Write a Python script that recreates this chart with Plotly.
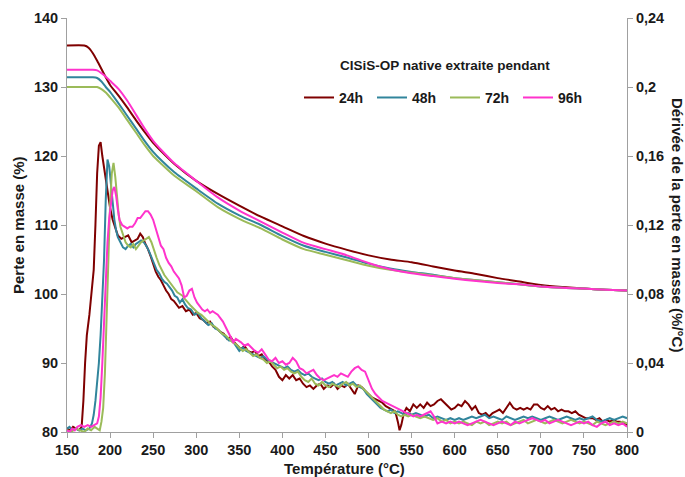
import plotly.graph_objects as go

# ---------------- data ----------------
series_names = ["24h", "48h", "72h", "96h"]
series_colors = ["#7F0000", "#31859C", "#9BBB59", "#FF33CC"]

# Mass loss (TG) curves, left axis (%)
tg_temp = [150, 170, 175, 180, 185, 190, 195, 200, 210, 220, 230, 240, 250, 260, 275, 300, 325, 350,
           375, 400, 425, 450, 475, 500, 525, 550, 575, 600, 625, 650, 675, 700, 725, 750, 775, 800]
tg_24h = [136.0, 136.0, 135.7, 134.9, 133.8, 132.6, 131.4, 130.3, 128.7, 127.0, 125.2, 123.5, 121.9,
          120.6, 118.8, 116.4, 114.5, 112.8, 111.2, 109.8, 108.4, 107.3, 106.4, 105.6, 105.0, 104.6,
          104.0, 103.4, 102.9, 102.3, 101.8, 101.3, 101.0, 100.8, 100.6, 100.5]
tg_48h = [131.4, 131.4, 131.4, 131.4, 131.3, 130.8, 130.0, 129.3, 127.6, 125.8, 124.0, 122.2, 120.6,
          119.3, 117.6, 115.3, 113.1, 111.4, 110.0, 108.4, 107.0, 106.1, 105.3, 104.4, 103.7, 103.2,
          102.8, 102.3, 102.0, 101.7, 101.4, 101.1, 100.9, 100.8, 100.6, 100.5]
tg_72h = [130.0, 130.0, 130.0, 130.0, 130.0, 129.7, 129.2, 128.5, 127.0, 125.2, 123.4, 121.6, 120.0,
          118.8, 117.1, 114.9, 112.6, 110.9, 109.5, 107.9, 106.5, 105.7, 104.9, 104.1, 103.5, 103.1,
          102.7, 102.3, 102.0, 101.7, 101.4, 101.1, 100.9, 100.8, 100.6, 100.5]
tg_96h = [132.5, 132.5, 132.5, 132.5, 132.4, 132.0, 131.5, 130.9, 129.7, 128.0, 126.0, 124.0, 122.2,
          120.8, 118.9, 116.4, 114.0, 112.1, 110.5, 108.9, 107.4, 106.5, 105.6, 104.5, 103.6, 103.0,
          102.6, 102.2, 101.9, 101.6, 101.4, 101.1, 100.9, 100.8, 100.6, 100.5]

# Derivative (DTG) curves, right axis (%/°C) as (temperature, value) pairs
dtg_24h = [(150,0.002),(154,0.001),(157,0.003),(160,0.002),(164,0.001),(167,0.003),(169,0.018),(171,0.040),
           (173,0.056),(176,0.068),(179,0.082),(181,0.094),(183,0.120),(185,0.150),(187,0.166),(189,0.168),
           (191,0.160),(194,0.150),(197,0.138),(200,0.130),(203,0.123),(206,0.118),(209,0.114),(213,0.112),
           (217,0.113),(221,0.114),(225,0.110),(229,0.111),(232,0.112),(235,0.115),(238,0.113),(241,0.109),
           (244,0.106),(247,0.102),(250,0.097),(253,0.093),(256,0.090),(259,0.088),(262,0.085),(265,0.082),
           (268,0.080),(271,0.077),(274,0.076),(277,0.074),(280,0.072),(284,0.073),(288,0.070),(292,0.071),
           (296,0.068),(300,0.069),(304,0.066),(308,0.065),(312,0.063),(316,0.064),(320,0.061),(324,0.060),
           (328,0.058),(332,0.057),(336,0.054),(340,0.055),(344,0.052),(348,0.050),(352,0.048),(356,0.050),
           (360,0.047),(364,0.046),(368,0.047),(372,0.044),(376,0.045),(380,0.042),(384,0.041),(388,0.038),
           (392,0.036),(396,0.032),(400,0.030),(404,0.033),(408,0.031),(412,0.033),(416,0.030),(420,0.031),
           (424,0.028),(428,0.026),(432,0.027),(436,0.025),(440,0.027),(444,0.028),(448,0.025),(452,0.027),
           (456,0.026),(460,0.028),(464,0.025),(468,0.027),(472,0.026),(476,0.028),(480,0.025),(484,0.022),
           (488,0.027),(492,0.026),(496,0.024),(500,0.022),(504,0.020),(508,0.019),(512,0.018),(516,0.017),
           (520,0.015),(524,0.014),(528,0.013),(531,0.012),(534,0.006),(536,0.001),(538,0.004),(541,0.011),
           (544,0.014),(548,0.012),(552,0.016),(556,0.014),(560,0.016),(564,0.014),(568,0.017),(572,0.015),
           (576,0.016),(580,0.018),(584,0.019),(588,0.017),(592,0.015),(596,0.013),(600,0.014),(604,0.016),
           (608,0.015),(612,0.018),(616,0.016),(620,0.013),(624,0.015),(628,0.011),(632,0.010),(636,0.011),
           (640,0.009),(644,0.011),(648,0.012),(652,0.013),(656,0.011),(660,0.014),(664,0.017),(668,0.014),
           (672,0.013),(676,0.014),(680,0.013),(684,0.014),(688,0.013),(692,0.016),(696,0.016),(700,0.014),
           (704,0.013),(708,0.015),(712,0.013),(716,0.014),(720,0.012),(724,0.013),(728,0.012),(732,0.012),
           (736,0.011),(740,0.012),(744,0.010),(748,0.009),(752,0.008),(756,0.008),(760,0.008),(764,0.007),
           (768,0.008),(772,0.006),(776,0.007),(780,0.006),(784,0.007),(788,0.006),(792,0.006),(796,0.005),
           (800,0.004)]
dtg_48h = [(150,0.002),(153,0.003),(156,0.001),(160,0.002),(164,0.001),(168,0.002),(172,0.001),(176,0.002),
           (179,0.005),(181,0.010),(183,0.018),(185,0.028),(187,0.040),(189,0.056),(191,0.076),(193,0.100),
           (195,0.135),(197,0.158),(199,0.154),(201,0.142),(203,0.131),(205,0.123),(207,0.117),(209,0.113),
           (212,0.110),(215,0.107),(218,0.106),(221,0.108),(224,0.109),(227,0.107),(230,0.109),(233,0.110),
           (236,0.111),(239,0.110),(242,0.108),(245,0.105),(248,0.101),(251,0.097),(254,0.094),(257,0.092),
           (260,0.089),(263,0.087),(266,0.086),(269,0.084),(272,0.082),(275,0.079),(278,0.078),(281,0.075),
           (284,0.077),(287,0.074),(290,0.072),(294,0.071),(298,0.068),(302,0.069),(306,0.066),(310,0.064),
           (314,0.062),(318,0.063),(322,0.060),(326,0.059),(330,0.057),(334,0.055),(338,0.053),(342,0.053),
           (346,0.050),(350,0.047),(354,0.049),(358,0.047),(362,0.046),(366,0.045),(370,0.044),(374,0.043),
           (378,0.044),(382,0.042),(386,0.041),(390,0.040),(394,0.039),(398,0.038),(402,0.037),(406,0.038),
           (410,0.036),(414,0.035),(418,0.036),(422,0.034),(426,0.033),(430,0.034),(434,0.032),(438,0.031),
           (442,0.030),(446,0.031),(450,0.029),(454,0.028),(458,0.029),(462,0.027),(466,0.028),(470,0.029),
           (474,0.027),(478,0.028),(482,0.029),(486,0.027),(490,0.026),(494,0.025),(498,0.022),(502,0.020),
           (506,0.018),(510,0.016),(514,0.014),(518,0.013),(522,0.012),(526,0.013),(530,0.011),(534,0.012),
           (538,0.011),(542,0.010),(546,0.011),(550,0.010),(555,0.011),(560,0.010),(565,0.009),(570,0.010),
           (575,0.008),(580,0.009),(585,0.008),(590,0.007),(595,0.008),(600,0.007),(605,0.008),(610,0.007),
           (615,0.008),(620,0.009),(625,0.008),(630,0.009),(635,0.010),(640,0.008),(645,0.009),(650,0.008),
           (655,0.007),(660,0.009),(665,0.008),(670,0.007),(675,0.008),(680,0.009),(685,0.008),(690,0.009),
           (695,0.008),(700,0.007),(705,0.008),(710,0.009),(715,0.008),(720,0.007),(725,0.008),(730,0.009),
           (735,0.008),(740,0.007),(745,0.008),(750,0.007),(755,0.008),(760,0.009),(765,0.007),(770,0.006),
           (775,0.007),(780,0.008),(785,0.007),(790,0.008),(795,0.009),(800,0.008)]
dtg_72h = [(150,0.001),(155,0.000),(160,0.002),(165,0.001),(170,0.000),(174,0.002),(178,0.001),(182,0.003),
           (185,0.002),(188,0.001),(190,0.006),(192,0.014),(194,0.034),(196,0.070),(198,0.105),(200,0.132),
           (202,0.150),(204,0.156),(206,0.148),(208,0.136),(210,0.126),(212,0.119),(215,0.114),(218,0.110),
           (221,0.108),(224,0.107),(227,0.109),(230,0.106),(233,0.108),(236,0.110),(239,0.111),(242,0.112),
           (245,0.113),(248,0.110),(251,0.105),(254,0.101),(257,0.097),(260,0.094),(263,0.091),(266,0.089),
           (269,0.087),(272,0.085),(275,0.083),(278,0.081),(281,0.080),(284,0.079),(287,0.077),(290,0.075),
           (294,0.073),(298,0.071),(302,0.069),(306,0.068),(310,0.066),(314,0.064),(318,0.062),(322,0.061),
           (326,0.059),(330,0.057),(334,0.056),(338,0.054),(342,0.052),(346,0.051),(350,0.049),(354,0.047),
           (358,0.048),(362,0.046),(366,0.044),(370,0.045),(374,0.043),(378,0.042),(382,0.040),(386,0.041),
           (390,0.039),(394,0.037),(398,0.038),(402,0.036),(406,0.037),(410,0.035),(414,0.034),(418,0.035),
           (422,0.032),(426,0.030),(430,0.029),(434,0.031),(438,0.028),(442,0.027),(446,0.029),(450,0.027),
           (454,0.026),(458,0.028),(462,0.027),(466,0.026),(470,0.028),(474,0.029),(478,0.027),(482,0.028),
           (486,0.026),(490,0.027),(494,0.025),(498,0.023),(502,0.021),(506,0.019),(510,0.017),(514,0.015),
           (518,0.013),(522,0.012),(526,0.011),(530,0.012),(534,0.010),(538,0.009),(542,0.010),(546,0.009),
           (550,0.010),(555,0.009),(560,0.008),(565,0.009),(570,0.008),(575,0.007),(580,0.008),(585,0.006),
           (590,0.007),(595,0.005),(600,0.006),(605,0.005),(610,0.006),(615,0.005),(620,0.004),(625,0.006),
           (630,0.005),(635,0.006),(640,0.004),(645,0.005),(650,0.006),(655,0.005),(660,0.006),(665,0.004),
           (670,0.005),(675,0.006),(680,0.007),(685,0.005),(690,0.006),(695,0.007),(700,0.006),(705,0.005),
           (710,0.006),(715,0.007),(720,0.006),(725,0.005),(730,0.006),(735,0.007),(740,0.006),(745,0.005),
           (750,0.006),(755,0.005),(760,0.004),(765,0.006),(770,0.005),(775,0.004),(780,0.005),(785,0.006),
           (790,0.005),(795,0.006),(800,0.005)]
dtg_96h = [(150,0.001),(153,0.000),(156,0.002),(159,0.001),(162,0.003),(166,0.004),(170,0.003),(174,0.004),
           (178,0.003),(182,0.004),(185,0.005),(187,0.009),(189,0.020),(191,0.040),(193,0.064),(195,0.090),
           (197,0.110),(199,0.124),(201,0.134),(203,0.140),(205,0.142),(207,0.137),(209,0.129),(211,0.123),
           (214,0.120),(217,0.119),(220,0.118),(223,0.119),(226,0.119),(229,0.121),(232,0.124),(235,0.124),
           (238,0.126),(241,0.128),(244,0.128),(247,0.126),(250,0.123),(253,0.118),(256,0.113),(259,0.108),
           (262,0.106),(265,0.101),(268,0.098),(271,0.096),(274,0.093),(277,0.091),(280,0.089),(283,0.085),
           (286,0.078),(289,0.079),(292,0.082),(295,0.083),(298,0.078),(301,0.075),(304,0.073),(307,0.071),
           (310,0.070),(313,0.071),(316,0.069),(319,0.070),(322,0.069),(325,0.068),(328,0.066),(331,0.064),
           (334,0.061),(337,0.058),(340,0.055),(343,0.052),(346,0.054),(349,0.053),(352,0.052),(356,0.050),
           (360,0.051),(364,0.049),(368,0.047),(372,0.046),(376,0.048),(380,0.045),(384,0.042),(388,0.041),
           (392,0.043),(396,0.040),(400,0.041),(404,0.039),(408,0.040),(412,0.043),(416,0.041),(420,0.037),
           (424,0.036),(428,0.034),(432,0.035),(436,0.036),(440,0.033),(444,0.031),(448,0.030),(452,0.031),
           (456,0.032),(460,0.033),(464,0.032),(468,0.034),(472,0.033),(476,0.032),(480,0.035),(484,0.037),
           (488,0.038),(492,0.036),(496,0.035),(500,0.030),(504,0.025),(508,0.022),(512,0.020),(516,0.018),
           (520,0.017),(524,0.016),(528,0.015),(532,0.014),(536,0.013),(540,0.012),(544,0.011),(548,0.010),
           (552,0.009),(556,0.010),(560,0.009),(564,0.010),(568,0.011),(572,0.012),(576,0.009),(580,0.005),
           (585,0.006),(590,0.005),(595,0.006),(600,0.005),(605,0.006),(610,0.005),(615,0.004),(620,0.005),
           (625,0.006),(630,0.007),(635,0.006),(640,0.005),(645,0.004),(650,0.005),(655,0.006),(660,0.005),
           (665,0.004),(670,0.006),(675,0.005),(680,0.006),(685,0.007),(690,0.008),(695,0.007),(700,0.006),
           (705,0.007),(710,0.005),(715,0.006),(720,0.007),(725,0.006),(730,0.005),(735,0.004),(740,0.005),
           (745,0.006),(750,0.005),(755,0.006),(760,0.004),(765,0.003),(770,0.005),(775,0.006),(780,0.004),
           (785,0.005),(790,0.004),(795,0.005),(800,0.003)]

x_ticks = [150, 200, 250, 300, 350, 400, 450, 500, 550, 600, 650, 700, 750, 800]
y_left_ticks = [80, 90, 100, 110, 120, 130, 140]
y_right_ticks = [0, 0.04, 0.08, 0.12, 0.16, 0.2, 0.24]
y_right_labels = ["0", "0,04", "0,08", "0,12", "0,16", "0,2", "0,24"]

legend_title = "CISiS-OP native extraite pendant"
x_title = "Température (°C)"
y_left_title = "Perte en masse (%)"
y_right_title = "Dérivée de la perte en masse (%/°C)"

# ---------------- figure ----------------
FONT = "Liberation Sans"
TXT = "#1a1a1a"
AX = "#A0A0A0"
TICKFONT = dict(size=14.5, family=FONT, weight="bold", color=TXT)
TITLEFONT = dict(size=15, family=FONT, weight="bold", color=TXT)

fig = go.Figure()

tg_series = [tg_24h, tg_48h, tg_72h, tg_96h]
dtg_series = [dtg_24h, dtg_48h, dtg_72h, dtg_96h]

for name, col, d in zip(series_names, series_colors, dtg_series):
    fig.add_trace(go.Scatter(
        x=[p[0] for p in d], y=[p[1] for p in d], yaxis="y2", mode="lines",
        line=dict(color=col, width=2), showlegend=False, name=name + " DTG"))

for name, col, tg in zip(series_names, series_colors, tg_series):
    fig.add_trace(go.Scatter(
        x=tg_temp, y=tg, mode="lines", name=name,
        line=dict(color=col, width=2, shape="spline", smoothing=0.6)))

fig.update_layout(
    width=685, height=477,
    margin=dict(l=67, r=58, t=18, b=45, autoexpand=False),
    paper_bgcolor="white", plot_bgcolor="white",
    font=dict(family=FONT, size=13, color=TXT, weight="bold"),
    xaxis=dict(range=[150, 800], tickvals=x_ticks, showgrid=False, zeroline=False,
               showline=True, linecolor=AX, linewidth=1, ticks="outside", ticklen=5,
               tickcolor=AX, tickfont=TICKFONT, automargin=False),
    yaxis=dict(range=[80, 140], tickvals=y_left_ticks, showgrid=False, zeroline=False,
               showline=True, linecolor=AX, linewidth=1, ticks="outside", ticklen=5,
               tickcolor=AX, tickfont=TICKFONT, automargin=False),
    yaxis2=dict(range=[0, 0.24], tickvals=y_right_ticks, ticktext=y_right_labels,
                overlaying="y", side="right", showgrid=False, zeroline=False,
                showline=True, linecolor=AX, linewidth=1, ticks="outside", ticklen=5,
                tickcolor=AX, tickfont=TICKFONT, automargin=False),
    legend=dict(orientation="h", x=0.4143, y=0.8457, xanchor="left", yanchor="top",
                font=dict(size=14, family=FONT, weight="bold", color=TXT),
                itemwidth=30, entrywidth=28, entrywidthmode="pixels",
                bgcolor="rgba(0,0,0,0)", traceorder="normal"),
    annotations=[
        dict(text=legend_title, xref="paper", yref="paper", x=0.675, y=0.885,
             xanchor="center", yanchor="middle", showarrow=False,
             font=dict(size=13.5, family=FONT, weight="bold", color=TXT)),
        dict(text=x_title, xref="paper", yref="paper", x=0.496, y=-0.087,
             xanchor="center", yanchor="middle", showarrow=False, font=TITLEFONT),
        dict(text=y_left_title, textangle=-90, xref="paper", yref="paper",
             x=-0.0875, y=0.5, xanchor="center", yanchor="middle", showarrow=False,
             font=TITLEFONT),
        dict(text=y_right_title, textangle=90, xref="paper", yref="paper",
             x=1.0, xshift=51, y=0.5, xanchor="center", yanchor="middle",
             showarrow=False, font=TITLEFONT),
    ],
)

fig.write_html("out.html", config={"displayModeBar": False},
               post_script="document.body.style.margin='0';")
